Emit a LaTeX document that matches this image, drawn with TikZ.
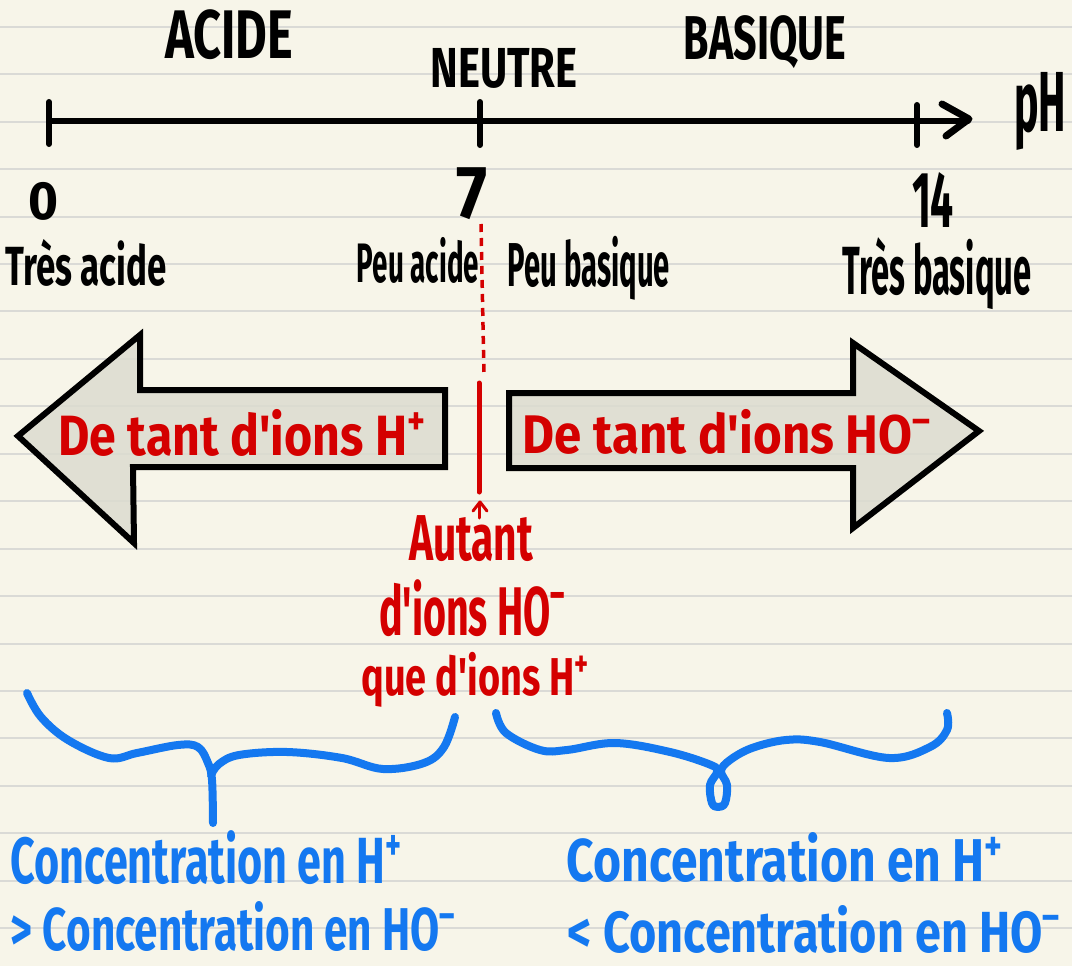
\documentclass[tikz,border=0pt]{standalone}
\usepackage{fontspec}
\usepackage{graphicx}
\newfontfamily\hand{Fira Sans}
\newcommand{\fb}[3]{\resizebox*{#1pt}{#2pt}{#3}}
\definecolor{paper}{HTML}{F7F5E9}
\definecolor{rule}{HTML}{DADAD6}
\definecolor{inkred}{HTML}{D40000}
\definecolor{inkblue}{HTML}{1478F0}
\definecolor{arrowfill}{HTML}{DCDCD0}
\tikzset{
  txt/.style={inner sep=0pt, font=\hand\bfseries},
  redtxt/.style={txt, text=inkred},
  bluetxt/.style={txt, text=inkblue},
  axisline/.style={line width=6pt, line cap=round, line join=round},
  bigarrow/.style={draw=black, line width=6pt, line join=miter, fill=arrowfill, fill opacity=0.85},
  brace/.style={draw=inkblue, line width=8pt, line cap=round, line join=round},
}
\begin{document}
\begin{tikzpicture}[x=1pt,y=-1pt]
\useasboundingbox (0,0) rectangle (1072,966);
\fill[paper] (0,0) rectangle (1072,966);
\foreach \k in {0,...,19} {\draw[rule, line width=2pt] (0,{26.7+47.45*\k}) -- (1072,{26.7+47.45*\k});}

% titles
\node[txt] (acide) at (229,35) {\fb{128}{50}{ACIDE}};
\node[txt] (neutre) at (504,68) {\fb{147}{40}{NEUTRE}};
\node[txt] (basique) at (765,42) {\fb{162}{53}{BASIQUE}};

% axis
\coordinate (a0) at (49,121);
\coordinate (a7) at (480,121);
\coordinate (a14) at (917,121);
\coordinate (aend) at (968,121);
\draw[axisline] (a0) -- (aend);
\draw[axisline] (49,102) -- (49,144);
\draw[axisline] (480,102) -- (480,145);
\draw[axisline] (917,105) -- (917,145);
\draw[axisline, line width=7pt] (942,104) -- (969,119) -- (946,136);
\node[txt] (ph) at (1040,111) {\fb{52}{78}{pH}};

\node[txt] (n0) at (44,201) {\fb{30}{38}{0}};
\node[txt] (n7) at (472,194) {\fb{31}{52}{7}};
\node[txt] (n14) at (933,200) {\fb{42}{55}{14}};

\node[txt] (tacide) at (86,263) {\fb{161}{47}{Très acide}};
\node[txt] (pacide) at (418,260) {\fb{122}{46}{Peu acide}};
\node[txt] (pbasique) at (589,268) {\fb{162}{64}{Peu basique}};
\node[txt] (tbasique) at (937,274) {\fb{189}{72}{Très basique}};

% red neutral line
\draw[inkred, line width=3.5pt, dash pattern=on 8pt off 6pt] (481,224) -- (484,376);
\draw[inkred, line width=5pt, line cap=round] (479,383) -- (479,492);
\draw[inkred, line width=3pt, line cap=round, line join=round] (473,511) -- (480,502) -- (487,511);
\draw[inkred, line width=3pt, line cap=round] (479,504) -- (479,518);

% big arrows
\draw[bigarrow] (18,436) -- (140,335) -- (140,390) -- (445,390) -- (445,467) -- (133,467) -- (134,543) -- cycle;
\draw[bigarrow] (509,393) -- (853,393) -- (853,343) -- (979,431) -- (853,528) -- (853,468) -- (509,468) -- cycle;
\node[redtxt] (lefttxt) at (243,433) {\fb{369}{47}{De tant d'ions H\textsuperscript{+}}};
\node[redtxt] (righttxt) at (728,432) {\fb{410}{45}{De tant d'ions HO\textsuperscript{–}}};

% neutral text
\node[redtxt] (autant) at (471,539) {\fb{124}{46}{Autant}};
\node[redtxt] (dions) at (473,608) {\fb{188}{57}{d'ions HO\textsuperscript{–}}};
\node[redtxt] (que) at (476,680) {\fb{229}{55}{que d'ions H\textsuperscript{+}}};

% braces
\draw[brace] plot[smooth, tension=0.6] coordinates {(27,693) (41,717) (68,740) (109,758) (137,753) (178,745) (198,747) (208,763) (212,780) (213,823)};
\draw[brace] plot[smooth, tension=0.6] coordinates {(211,775) (219,764) (239,755) (287,752) (342,758) (383,769) (424,763) (444,747) (455,717)};
\draw[brace] plot[smooth, tension=0.6] coordinates {(496,713) (506,733) (540,750) (567,750) (615,743) (670,752) (711,765) (717,772) (710,785) (712,803) (718,807) (725,803) (727,785) (721,771) (730,760) (752,748) (786,740) (820,742) (889,758) (930,747) (947,730) (947,713)};

% blue texts
\node[bluetxt] (lc1) at (207,858) {\fb{393}{54}{Concentration en H\textsuperscript{+}}};
\node[bluetxt] (lc2) at (234,927) {\fb{446}{50}{> Concentration en HO\textsuperscript{–}}};
\node[bluetxt] (rc1) at (786,858) {\fb{438}{50}{Concentration en H\textsuperscript{+}}};
\node[bluetxt] (rc2) at (815,929) {\fb{494}{48}{< Concentration en HO\textsuperscript{–}}};
\end{tikzpicture}
\end{document}
